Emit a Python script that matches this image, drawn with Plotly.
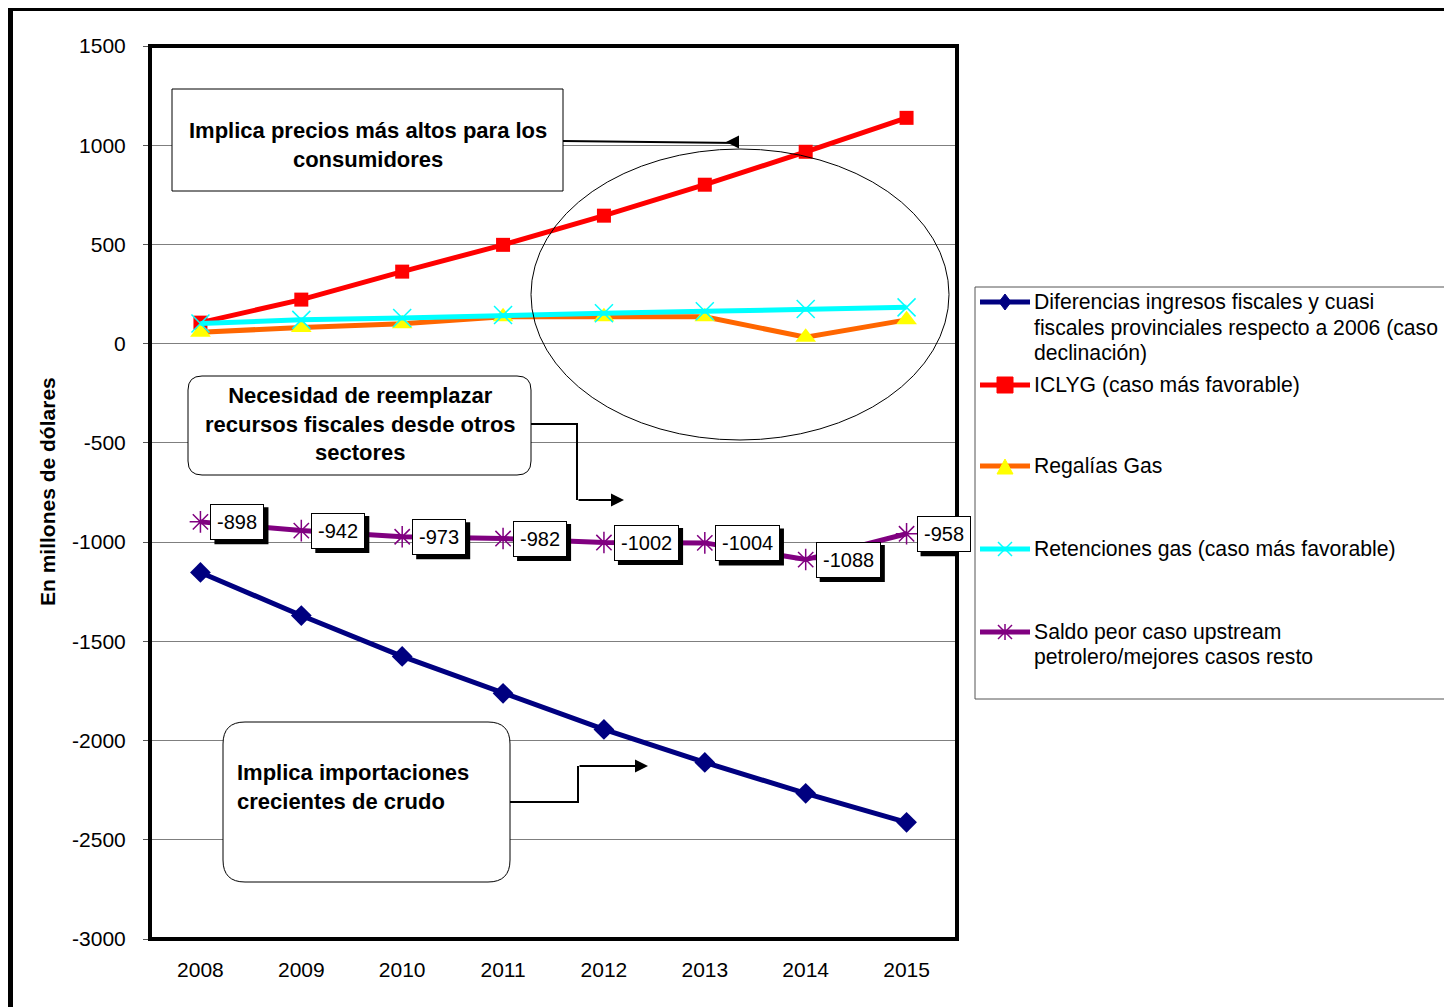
import plotly.graph_objects as go

years = ["2008", "2009", "2010", "2011", "2012", "2013", "2014", "2015"]
diferencias = [-1153, -1370, -1576, -1762, -1944, -2110, -2266, -2412]
iclyg = [106, 222, 363, 498, 645, 801, 967, 1138]
regalias = [57, 82, 100, 136, 136, 136, 32, 120]
retenciones = [102, 120, 129, 144, 153, 163, 175, 183]
saldo = [-898, -942, -973, -982, -1002, -1004, -1088, -958]
ytick_vals = [1500, 1000, 500, 0, -500, -1000, -1500, -2000, -2500, -3000]
ytick_text = ["1500", "1000", "500", "0", "-500", "-1000", "-1500", "-2000", "-2500", "-3000"]

series_names = [
    "Diferencias ingresos fiscales y cuasi fiscales provinciales respecto a 2006 (caso declinación)",
    "ICLYG (caso más favorable)",
    "Regalías Gas",
    "Retenciones gas (caso más favorable)",
    "Saldo peor caso upstream petrolero/mejores casos resto",
]
legend_lines = [
    ["Diferencias ingresos fiscales y cuasi", "fiscales provinciales respecto a 2006 (caso", "declinación)"],
    ["ICLYG (caso más favorable)"],
    ["Regalías Gas"],
    ["Retenciones gas (caso más favorable)"],
    ["Saldo peor caso upstream", "petrolero/mejores casos resto"],
]

FONT = "Arial, 'Liberation Sans', sans-serif"
OFF = 8  # page body margin
W, H = 1452 - OFF, 1007 - OFF
# plot area in page pixel coordinates
L, R, T, B = 150, 957, 46, 939
LBL_SIZE, LBL_PAD = 20, 6


def px(x):
    return (x - L) / (R - L)


def py(y):
    return (B - y) / (B - T)


fig = go.Figure()
fig.add_trace(go.Scatter(x=years, y=diferencias, name=series_names[0], mode="lines+markers",
                         line=dict(color="#000080", width=5),
                         marker=dict(symbol="diamond", size=16, color="#000080")))
fig.add_trace(go.Scatter(x=years, y=iclyg, name=series_names[1], mode="lines+markers",
                         line=dict(color="#FF0000", width=5),
                         marker=dict(symbol="square", size=14, color="#FF0000")))
fig.add_trace(go.Scatter(x=years, y=regalias, name=series_names[2], mode="lines+markers",
                         line=dict(color="#FF6600", width=5),
                         marker=dict(symbol="triangle-up", size=18, color="#FFFF00")))
fig.add_trace(go.Scatter(x=years, y=retenciones, name=series_names[3], mode="lines+markers",
                         line=dict(color="#00FFFF", width=5),
                         marker=dict(symbol="x-thin-open", size=18, color="#00FFFF",
                                     line=dict(color="#00FFFF", width=1.5))))
fig.add_trace(go.Scatter(x=years, y=saldo, name=series_names[4], mode="lines+markers",
                         line=dict(color="#800080", width=5),
                         marker=dict(symbol="asterisk-open", size=18, color="#800080",
                                     line=dict(color="#800080", width=1.5))))

annotations = []
shapes = []
# data labels with drop shadow (shadow as pixel-sized shape anchored at the data point)
for i, v in enumerate(saldo):
    txt = str(v)
    w = LBL_SIZE * (0.333 + 0.556 * (len(txt) - 1)) + 2 * LBL_PAD + 2
    h = LBL_SIZE * 1.15 + 2 * LBL_PAD + 2
    shapes.append(dict(type="rect", xref="x", yref="y", xsizemode="pixel", ysizemode="pixel",
                       xanchor=i, yanchor=v, x0=14, x1=14 + w, y0=-h / 2 - 4, y1=h / 2 - 4,
                       fillcolor="black", line=dict(color="black", width=0)))
    annotations.append(dict(
        x=i, y=v, xref="x", yref="y", text=txt, showarrow=False,
        xanchor="left", yanchor="middle", borderpad=LBL_PAD, borderwidth=1, xshift=10,
        bgcolor="white", bordercolor="black",
        font=dict(family=FONT, size=LBL_SIZE, color="black")))


def text_ann(x, y, text, size=22, xanchor="center", align="center", angle=0):
    return dict(x=px(x), y=py(y), xref="paper", yref="paper", showarrow=False,
                xanchor=xanchor, yanchor="middle", align=align, text=text, textangle=angle,
                font=dict(family=FONT, size=size, color="black"))


annotations.append(text_ann(368, 145, "<b>Implica precios más altos para los<br>consumidores</b>"))
annotations.append(text_ann(360, 424, "<b>Necesidad de reemplazar<br>recursos fiscales desde otros<br>sectores</b>"))
annotations.append(text_ann(235, 787, "<b>Implica importaciones<br>crecientes de crudo</b>",
                            xanchor="left", align="left"))
annotations.append(text_ann(47, 492, "<b>En millones de dólares</b>", size=21, angle=-90))

# arrowheads
for hx, hy, axo in [(726, 142, 14), (624, 500, -47), (648, 766, -70)]:
    annotations.append(dict(x=px(hx), y=py(hy), xref="paper", yref="paper", text="",
                            showarrow=True, ax=axo, ay=0, arrowhead=2, arrowsize=1.3,
                            arrowwidth=2, arrowcolor="black"))

# legend text (manual legend)
legend_y = [[302, 328, 353], [385], [466], [549], [632, 657]]
for lines, ys in zip(legend_lines, legend_y):
    for t, yy in zip(lines, ys):
        annotations.append(text_ann(1032, yy, t, size=21.2, xanchor="left", align="left"))


def rounded(x0, y0, x1, y1, r):
    X0, X1 = px(x0), px(x1)
    Y0, Y1 = py(y0), py(y1)  # Y0 top
    rx = r / (R - L)
    ry = r / (B - T)
    return (f"M {X0+rx},{Y0} L {X1-rx},{Y0} Q {X1},{Y0} {X1},{Y0-ry} "
            f"L {X1},{Y1+ry} Q {X1},{Y1} {X1-rx},{Y1} L {X0+rx},{Y1} "
            f"Q {X0},{Y1} {X0},{Y1+ry} L {X0},{Y0-ry} Q {X0},{Y0} {X0+rx},{Y0} Z")


def poly(points, close=False):
    s = "M " + " L ".join(f"{px(a)},{py(b)}" for a, b in points)
    return s + (" Z" if close else "")


shapes += [
    dict(type="rect", xref="paper", yref="paper", x0=px(10.5), y0=py(8.5), x1=px(1475), y1=py(1030),
         line=dict(color="black", width=5), layer="below"),
    dict(type="rect", xref="paper", yref="paper", x0=0, y0=0, x1=1, y1=1,
         line=dict(color="black", width=4)),
    dict(type="circle", xref="paper", yref="paper", x0=px(531), x1=px(949), y0=py(440), y1=py(149),
         line=dict(color="black", width=1)),
    dict(type="rect", xref="paper", yref="paper", x0=px(172), x1=px(563), y0=py(191), y1=py(89),
         line=dict(color="black", width=1), fillcolor="white"),
    dict(type="path", xref="paper", yref="paper", path=rounded(188, 376, 531, 475, 14),
         line=dict(color="black", width=1), fillcolor="white"),
    dict(type="path", xref="paper", yref="paper", path=rounded(223, 722, 510, 882, 22),
         line=dict(color="black", width=1), fillcolor="white"),
    dict(type="path", xref="paper", yref="paper", path=poly([(563, 141), (738, 143)]),
         line=dict(color="black", width=2)),
    dict(type="path", xref="paper", yref="paper", path=poly([(531, 424), (577, 424), (577, 500)]),
         line=dict(color="black", width=2)),
    dict(type="path", xref="paper", yref="paper", path=poly([(510, 802), (578, 802), (578, 766)]),
         line=dict(color="black", width=2)),
    # legend box
    dict(type="rect", xref="paper", yref="paper", x0=px(975), x1=px(1490), y0=py(699), y1=py(287),
         line=dict(color="#555555", width=1), fillcolor="white", layer="below"),
]

# legend symbols
sym_colors = ["#000080", "#FF0000", "#FF6600", "#00FFFF", "#800080"]
sym_y = [302, 385, 466, 549, 632]
cx = 1005
for c, yy in zip(sym_colors, sym_y):
    shapes.append(dict(type="path", xref="paper", yref="paper", path=poly([(980, yy), (1030, yy)]),
                       line=dict(color=c, width=5)))
shapes.append(dict(type="path", xref="paper", yref="paper",
                   path=poly([(cx - 6, 302), (cx, 294), (cx + 6, 302), (cx, 310)], close=True),
                   line=dict(color="#000080", width=1), fillcolor="#000080"))
shapes.append(dict(type="path", xref="paper", yref="paper",
                   path=poly([(cx - 8, 377), (cx + 8, 377), (cx + 8, 393), (cx - 8, 393)], close=True),
                   line=dict(color="#FF0000", width=1), fillcolor="#FF0000"))
shapes.append(dict(type="path", xref="paper", yref="paper",
                   path=poly([(cx - 8, 474), (cx, 459), (cx + 8, 474)], close=True),
                   line=dict(color="#FFFF00", width=1), fillcolor="#FFFF00"))
shapes.append(dict(type="path", xref="paper", yref="paper",
                   path=poly([(cx - 7, 542), (cx + 7, 556)]), line=dict(color="#00FFFF", width=1.5)))
shapes.append(dict(type="path", xref="paper", yref="paper",
                   path=poly([(cx - 7, 556), (cx + 7, 542)]), line=dict(color="#00FFFF", width=1.5)))
for seg in [[(cx - 7, 625), (cx + 7, 639)], [(cx - 7, 639), (cx + 7, 625)], [(cx, 624), (cx, 640)]]:
    shapes.append(dict(type="path", xref="paper", yref="paper", path=poly(seg),
                       line=dict(color="#800080", width=1.5)))

fig.update_layout(
    width=W, height=H,
    margin=dict(l=L - OFF, r=W - (R - OFF), t=T - OFF, b=H - (B - OFF), autoexpand=False),
    paper_bgcolor="white", plot_bgcolor="white",
    font=dict(family=FONT, size=21, color="black"),
    showlegend=False,
    xaxis=dict(type="category", range=[-0.5, 7.5], showgrid=False, zeroline=False,
               showline=False, ticks="", tickfont=dict(family=FONT, size=21),
               ticklabelstandoff=16),
    yaxis=dict(range=[-3000, 1500], tickmode="array", tickvals=ytick_vals, ticktext=ytick_text,
               showgrid=True, gridcolor="#7f7f7f",
               gridwidth=1, zeroline=True, zerolinecolor="#7f7f7f", zerolinewidth=1,
               ticks="outside", ticklen=6, tickcolor="#555555", showline=False,
               tickfont=dict(family=FONT, size=21), ticklabelstandoff=13),
    xaxis2=dict(overlaying="x", anchor="free", position=py(343), range=[-0.5, 7.5],
                tickmode="array", tickvals=[0.5, 1.5, 2.5, 3.5, 4.5, 5.5, 6.5],
                ticks="outside", ticklen=6, tickcolor="#333333", showticklabels=False,
                showgrid=False, zeroline=False, showline=False, side="bottom"),
    annotations=annotations,
    shapes=shapes,
)

fig.write_html("out.html")
